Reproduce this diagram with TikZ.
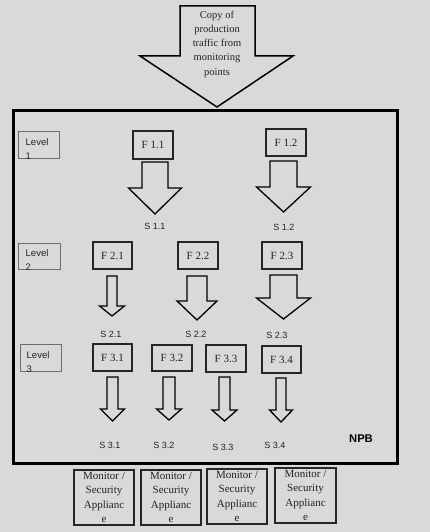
\documentclass[tikz,border=0pt]{standalone}
\usepackage{fontspec}
\setmainfont{Liberation Serif}
\setsansfont{Liberation Sans}
\definecolor{bggray}{HTML}{D9D9D9}
\definecolor{boxline}{HTML}{262626}
\definecolor{lvline}{HTML}{6E6E6E}
\definecolor{txt}{HTML}{222222}
\newcommand\blkarrow[6]{%
  \draw[blockarr] (#1-#3,#2) -- (#1+#3,#2) -- (#1+#3,#4) -- (#1+#5,#4) -- (#1,#6) -- (#1-#5,#4) -- (#1-#3,#4) -- cycle;}
\begin{document}
\begin{tikzpicture}[x=1pt,y=-1pt,
  fbox/.style={draw=boxline,line width=1.3pt,inner sep=0pt,minimum width=40pt,minimum height=27pt,
    font=\fontsize{11}{13}\selectfont,text=txt},
  lvbox/.style={draw=lvline,line width=1pt,inner sep=0pt,minimum width=41pt,minimum height=27pt},
  lvtext/.style={inner sep=0pt,anchor=north west,align=left,font=\sffamily\fontsize{9.5}{14}\selectfont,text=txt},
  slabel/.style={inner sep=0pt,font=\sffamily\fontsize{9}{11}\selectfont,text=txt},
  monbox/.style={draw=boxline,line width=1.2pt,inner sep=0pt,minimum width=60pt,minimum height=55pt,
    align=center,font=\fontsize{11}{14.5}\selectfont,text=txt},
  blockarr/.style={draw=black,line width=1.3pt,fill=bggray,line join=miter}]
\useasboundingbox (0,0) rectangle (430,532);
\fill[bggray] (0,0) rectangle (430,532);

% top input arrow
\draw[line width=1.5pt,fill=bggray] (180,6) -- (255,6) -- (255,56) -- (293,56) -- (217,107) -- (140,56) -- (180,56) -- cycle;
\node[inner sep=0pt,anchor=north,align=center,font=\fontsize{10.5}{14.25}\selectfont,text=txt] (input) at (217,10.5)
  {Copy of\\production\\traffic from\\monitoring\\points};

% NPB frame
\draw[line width=3pt] (13,111) rectangle (397,463);
\node[inner sep=0pt,font=\sffamily\bfseries\fontsize{11.2}{13}\selectfont] (npb) at (361,439) {NPB};

% level boxes
\node[lvbox] (L1) at (38.5,144.5) {};
\node[lvtext] (L1t) at ([xshift=8pt,yshift=-7.5pt]L1.north west) {Level\\1};
\node[lvbox,minimum width=42pt,minimum height=26pt] (L2) at (39,256) {};
\node[lvtext] (L2t) at ([xshift=8pt,yshift=-7pt]L2.north west) {Level\\2};
\node[lvbox] (L3) at (40.5,357.5) {};
\node[lvtext] (L3t) at ([xshift=7pt,yshift=-7.5pt]L3.north west) {Level\\3};

% F boxes
\node[fbox,minimum height=28pt] (F11) at (153,145) {F 1.1};
\node[fbox] (F12) at (286,142.5) {F 1.2};
\node[fbox,minimum width=39pt] (F21) at (112.5,255.5) {F 2.1};
\node[fbox] (F22) at (198,255.5) {F 2.2};
\node[fbox] (F23) at (282,255.5) {F 2.3};
\node[fbox,minimum width=39pt] (F31) at (112.5,357.5) {F 3.1};
\node[fbox,minimum height=26pt] (F32) at (172,358) {F 3.2};
\node[fbox] (F33) at (226,358.5) {F 3.3};
\node[fbox,minimum width=39pt] (F34) at (281.5,359.5) {F 3.4};

% block arrows: cx, top, shaft half width, head base, head half width, tip
\blkarrow{155}{162}{13}{188}{26.5}{214}
\blkarrow{283.5}{161}{13.5}{187}{27}{212}
\blkarrow{112}{276}{5}{306}{12.5}{316}
\blkarrow{197}{276}{10}{301}{20}{320}
\blkarrow{283.5}{275}{13.5}{298}{27}{319}
\blkarrow{112.5}{377}{5.5}{409}{12}{421}
\blkarrow{169}{377}{6}{409}{12.5}{420}
\blkarrow{224.5}{377}{5.5}{410}{12.5}{421}
\blkarrow{281}{378}{5}{410}{11.5}{422}

% S labels
\node[slabel] (S11) at (155,226) {S 1.1};
\node[slabel] (S12) at (284,227) {S 1.2};
\node[slabel] (S21) at (111,334) {S 2.1};
\node[slabel] (S22) at (196,334) {S 2.2};
\node[slabel] (S23) at (277,335) {S 2.3};
\node[slabel] (S31) at (110,445) {S 3.1};
\node[slabel] (S32) at (164,445) {S 3.2};
\node[slabel] (S33) at (223,447) {S 3.3};
\node[slabel] (S34) at (275,445) {S 3.4};

% monitor / security appliances
\node[monbox] (M1) at (104,497.5) {Monitor /\\Security\\Applianc\\e};
\node[monbox] (M2) at (171,497.5) {Monitor /\\Security\\Applianc\\e};
\node[monbox] (M3) at (237,496.5) {Monitor /\\Security\\Applianc\\e};
\node[monbox,minimum width=61pt] (M4) at (305.5,495.5) {Monitor /\\Security\\Applianc\\e};
\end{tikzpicture}
\end{document}
